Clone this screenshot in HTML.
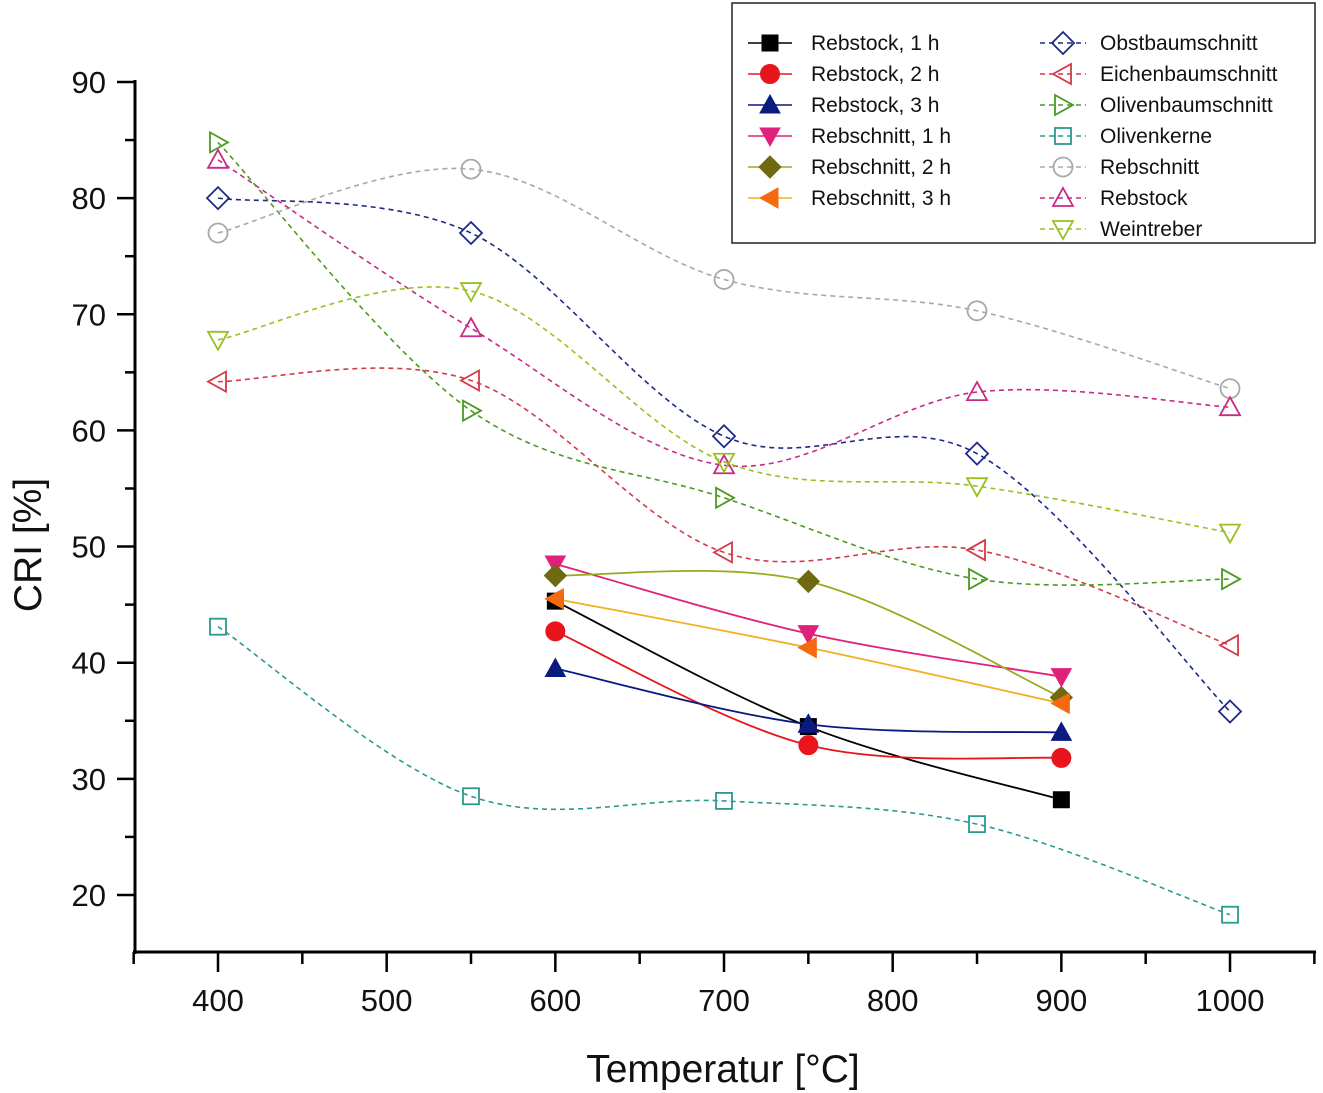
<!DOCTYPE html>
<html><head><meta charset="utf-8"><style>
html,body{margin:0;padding:0;background:#fff;}
svg{display:block;font-family:"Liberation Sans",Arial,sans-serif;}
</style></head><body>
<svg id="chart" width="1323" height="1093" viewBox="0 0 1323 1093" xmlns="http://www.w3.org/2000/svg">
<g id="axes"></g>
<g id="series"></g>
<g id="legend"></g>
</svg>
<script>
const temps1 = [600, 750, 900];
const temps2 = [400, 550, 700, 850, 1000];
const rebstock1h = [45.3, 34.5, 28.2];
const rebstock2h = [42.7, 32.9, 31.8];
const rebstock3h = [39.5, 34.7, 34.0];
const rebschnitt1h = [48.5, 42.5, 38.8];
const rebschnitt2h = [47.5, 47.0, 37.0];
const rebschnitt3h = [45.5, 41.3, 36.5];
const obstbaum = [80.0, 77.0, 59.5, 58.0, 35.8];
const eichenbaum = [64.2, 64.3, 49.5, 49.7, 41.5];
const olivenbaum = [84.8, 61.7, 54.2, 47.2, 47.2];
const olivenkerne = [43.1, 28.5, 28.1, 26.1, 18.3];
const rebschnittRaw = [77.0, 82.5, 73.0, 70.3, 63.6];
const rebstockRaw = [83.3, 68.8, 57.0, 63.3, 62.0];
const weintreber = [67.8, 72.0, 57.3, 55.2, 51.2];
const xTicks = [400, 500, 600, 700, 800, 900, 1000];
const yTicks = [20, 30, 40, 50, 60, 70, 80, 90];

const NS = "http://www.w3.org/2000/svg";
const X = t => 218 + (t - 400) * 1.6867;
const Y = v => 82 + (90 - v) * 11.614;
function el(tag, attrs, parent){const e=document.createElementNS(NS,tag);for(const k in attrs)e.setAttribute(k,attrs[k]);parent.appendChild(e);return e;}
const axes=document.getElementById('axes'), ser=document.getElementById('series'), leg=document.getElementById('legend');

let a=el('line',{x1:135,y1:80,x2:135,y2:954,stroke:'#000','stroke-width':3},axes);


a=el('line',{x1:133,y1:952,x2:1316,y2:952,stroke:'#000','stroke-width':3},axes);


for(let t=350;t<=1050;t+=50){
  const major=t%100===0;
  const tk=el('line',{x1:X(t),y1:952,x2:X(t),y2:major?972:964,stroke:'#000','stroke-width':2.5},axes);
  
  
}
xTicks.forEach(t=>{
  const tx=el('text',{x:X(t),y:1011,'font-size':31,'text-anchor':'middle',fill:'#111'},axes);tx.textContent=t;
  
  
});
for(let v=20;v<=90;v+=5){
  const major=v%10===0;
  const tk=el('line',{x1:major?117:125,y1:Y(v),x2:135,y2:Y(v),stroke:'#000','stroke-width':2.5},axes);
  
  
}
yTicks.forEach(v=>{
  const tx=el('text',{x:106,y:Y(v)+11,'font-size':31,'text-anchor':'end',fill:'#111'},axes);tx.textContent=v;
  
  
});
let t1=el('text',{x:723,y:1082,'font-size':39,'text-anchor':'middle',fill:'#111'},axes);t1.textContent='Temperatur [°C]';


let t2=el('text',{x:0,y:0,'font-size':39,'text-anchor':'middle',fill:'#111',transform:'translate(41,545) rotate(-90)'},axes);t2.textContent='CRI [%]';



function marker(g,shape,cx,cy,color,filled){
  const s=10, f=filled?color:'none', sw=filled?1:1.8;
  let m;
  if(shape==='sq') m=el('rect',{x:cx-8,y:cy-8,width:16,height:16,fill:f,stroke:color,'stroke-width':sw},g);
  else if(shape==='ci') m=el('circle',{cx:cx,cy:cy,r:9.5,fill:f,stroke:color,'stroke-width':sw},g);
  else {
    let p;
    if(shape==='up') p=[[0,-s],[s,s*0.8],[-s,s*0.8]];
    else if(shape==='dn') p=[[0,s],[s,-s*0.8],[-s,-s*0.8]];
    else if(shape==='lt') p=[[-s,0],[s*0.8,-s],[s*0.8,s]];
    else if(shape==='rt') p=[[s,0],[-s*0.8,-s],[-s*0.8,s]];
    else p=[[0,-s*1.1],[s*1.1,0],[0,s*1.1],[-s*1.1,0]];
    m=el('polygon',{points:p.map(q=>(cx+q[0])+','+(cy+q[1])).join(' '),fill:f,stroke:color,'stroke-width':sw},g);
  }
  return m;
}
function spline(pts){
  let d='M'+pts[0][0]+','+pts[0][1];
  for(let i=0;i<pts.length-1;i++){
    const p0=pts[i-1]||pts[i],p1=pts[i],p2=pts[i+1],p3=pts[i+2]||p2;
    const c1=[p1[0]+(p2[0]-p0[0])/6,p1[1]+(p2[1]-p0[1])/6];
    const c2=[p2[0]-(p3[0]-p1[0])/6,p2[1]-(p3[1]-p1[1])/6];
    d+=` C${c1[0]},${c1[1]} ${c2[0]},${c2[1]} ${p2[0]},${p2[1]}`;
  }
  return d;
}
const defs=[
 {n:'Rebstock, 1 h',xs:temps1,v:rebstock1h,c:'#000',sh:'sq',f:1,col:0,row:0,id:'rebstock-1h'},
 {n:'Rebstock, 2 h',xs:temps1,v:rebstock2h,c:'#e8161c',sh:'ci',f:1,col:0,row:1,id:'rebstock-2h'},
 {n:'Rebstock, 3 h',xs:temps1,v:rebstock3h,c:'#0a1a80',sh:'up',f:1,col:0,row:2,id:'rebstock-3h'},
 {n:'Rebschnitt, 1 h',xs:temps1,v:rebschnitt1h,c:'#e0207a',sh:'dn',f:1,col:0,row:3,id:'rebschnitt-1h'},
 {n:'Rebschnitt, 2 h',xs:temps1,v:rebschnitt2h,c:'#6f6a12',sh:'di',f:1,col:0,row:4,lc:'#9aaa20',id:'rebschnitt-2h'},
 {n:'Rebschnitt, 3 h',xs:temps1,v:rebschnitt3h,c:'#f56a10',sh:'lt',f:1,col:0,row:5,lc:'#f2b020',id:'rebschnitt-3h'},
 {n:'Obstbaumschnitt',xs:temps2,v:obstbaum,c:'#1e2a88',sh:'di',f:0,col:1,row:0,id:'obstbaumschnitt'},
 {n:'Eichenbaumschnitt',xs:temps2,v:eichenbaum,c:'#d23a4a',sh:'lt',f:0,col:1,row:1,id:'eichenbaumschnitt'},
 {n:'Olivenbaumschnitt',xs:temps2,v:olivenbaum,c:'#4a9a20',sh:'rt',f:0,col:1,row:2,id:'olivenbaumschnitt'},
 {n:'Olivenkerne',xs:temps2,v:olivenkerne,c:'#2a9a90',sh:'sq',f:0,col:1,row:3,id:'olivenkerne'},
 {n:'Rebschnitt',xs:temps2,v:rebschnittRaw,c:'#a8a8a8',sh:'ci',f:0,col:1,row:4,id:'rebschnitt'},
 {n:'Rebstock',xs:temps2,v:rebstockRaw,c:'#c82a86',sh:'up',f:0,col:1,row:5,id:'rebstock'},
 {n:'Weintreber',xs:temps2,v:weintreber,c:'#98c020',sh:'dn',f:0,col:1,row:6,id:'weintreber'}
];
defs.forEach(d=>{
  const g=el('g',{},ser);
  
  
  const pts=d.xs.map((t,i)=>[X(t),Y(d.v[i])]);
  const p=el('path',{d:spline(pts),fill:'none',stroke:d.lc||d.c,'stroke-width':d.f?1.8:1.6,'stroke-dasharray':d.f?'none':'5,4'},g);
  
  
  pts.forEach(q=>{
    const m=marker(g,d.sh,q[0],q[1],d.c,d.f);
    
    
  });
});
const box=el('rect',{x:732,y:3,width:583,height:240,fill:'#fff',stroke:'#222','stroke-width':1.5},leg);


defs.forEach(d=>{
  const g=el('g',{},leg);
  
  
  const y=43+d.row*31, x0=d.col?1040:748, x1=d.col?1086:792, mx=(x0+x1)/2;
  el('line',{x1:x0,y1:y,x2:x1,y2:y,stroke:d.lc||d.c,'stroke-width':1.6,'stroke-dasharray':d.f?'none':'5,4'},g);
  marker(g,d.sh,mx,y,d.c,d.f);
  const tx=el('text',{x:d.col?1100:811,y:y+7,'font-size':21,fill:'#111'},g);tx.textContent=d.n;
});
</script>
</body></html>
